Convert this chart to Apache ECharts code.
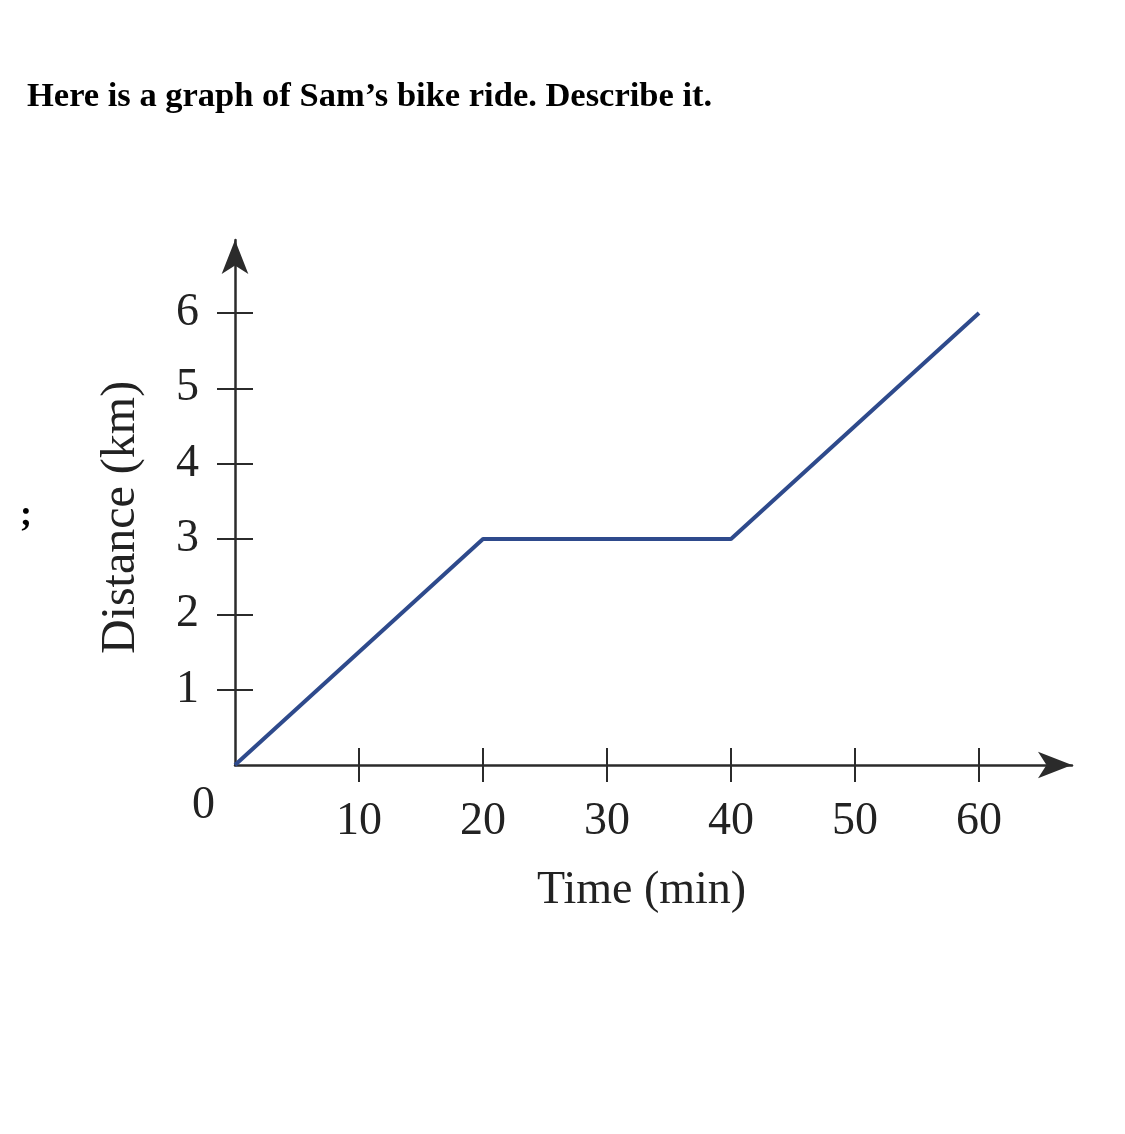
<!DOCTYPE html>
<html>
<head>
<meta charset="utf-8">
<script src="https://cdn.jsdelivr.net/npm/echarts@6/dist/echarts.min.js"></script>
<style>
html,body{margin:0;padding:0;background:#fff;}
#chart{width:1125px;height:1134px;}
</style>
</head>
<body>
<div id="chart"></div>
<script>
var titleText = "Here is a graph of Sam\u2019s bike ride. Describe it.";
var timeMin = [0, 20, 40, 60];
var distanceKm = [0, 3, 3, 6];
var xTicks = [10, 20, 30, 40, 50, 60];
var yTicks = [1, 2, 3, 4, 5, 6];
var xName = "Time (min)";
var yName = "Distance (km)";

var FONT = "'Liberation Serif', 'Times New Roman', serif";
var AXIS_COLOR = "#2b2b2b";
var points = timeMin.map(function (t, i) { return [t, distanceKm[i]]; });

var chart = echarts.init(document.getElementById('chart'), null, {renderer: 'canvas'});
var xMax = 67.5, yMax = 6.97;
var labelStyle = {fontFamily: FONT, fontSize: 46, color: '#222'};

chart.setOption({
  backgroundColor: '#fff',
  animation: false,
  title: {
    text: titleText, left: 22, top: 75,
    textStyle: {fontFamily: FONT, fontWeight: 'bold', fontSize: 34.5, color: '#000'}
  },
  grid: {left: 235, right: 1125 - 1072, top: 240, bottom: 369, containLabel: false},
  xAxis: [{
    type: 'value', min: 0, max: xMax, interval: 10,
    name: xName, nameLocation: 'middle', nameGap: 103,
    nameTextStyle: {fontFamily: FONT, fontSize: 46, color: '#222', padding: [0, 24, 0, 0]},
    axisLine: {show: true, symbol: ['none', 'arrow'], symbolSize: [20, 34],
      lineStyle: {color: AXIS_COLOR, width: 2.5}},
    axisTick: {show: true, length: 17, inside: false, customValues: xTicks,
      lineStyle: {color: AXIS_COLOR, width: 2}},
    axisLabel: Object.assign({margin: 34, customValues: xTicks}, labelStyle),
    splitLine: {show: false}
  }, {
    type: 'value', min: 0, max: xMax, interval: 10, position: 'bottom',
    axisLine: {show: false},
    axisTick: {show: true, length: 17, inside: true, customValues: xTicks,
      lineStyle: {color: AXIS_COLOR, width: 2}},
    axisLabel: {show: false}, splitLine: {show: false}
  }],
  yAxis: [{
    type: 'value', min: 0, max: yMax, interval: 1,
    name: yName, nameLocation: 'middle', nameGap: 90,
    nameTextStyle: {fontFamily: FONT, fontSize: 48, color: '#222', padding: [0, 30, 0, 0]},
    axisLine: {show: true, symbol: ['none', 'arrow'], symbolSize: [20, 34],
      lineStyle: {color: AXIS_COLOR, width: 2.5}},
    axisTick: {show: true, length: 18, inside: false, customValues: yTicks,
      lineStyle: {color: AXIS_COLOR, width: 2}},
    axisLabel: Object.assign({margin: 36, customValues: yTicks}, labelStyle),
    splitLine: {show: false}
  }, {
    type: 'value', min: 0, max: yMax, interval: 1, position: 'left',
    axisLine: {show: false},
    axisTick: {show: true, length: 18, inside: true, customValues: yTicks,
      lineStyle: {color: AXIS_COLOR, width: 2}},
    axisLabel: {show: false}, splitLine: {show: false}
  }],
  graphic: [
    {type: 'text', left: 192, top: 783, style: {text: '0', font: "46px " + FONT, fill: '#222'}},
    {type: 'text', left: 20, top: 498, style: {text: ';', font: "bold 36px " + FONT, fill: '#000'}}
  ],
  series: [{
    type: 'line', xAxisIndex: 0, yAxisIndex: 0,
    data: points, showSymbol: false, symbol: 'none',
    lineStyle: {color: '#2e4a8c', width: 4},
    z: 5
  }]
});
</script>
</body>
</html>
